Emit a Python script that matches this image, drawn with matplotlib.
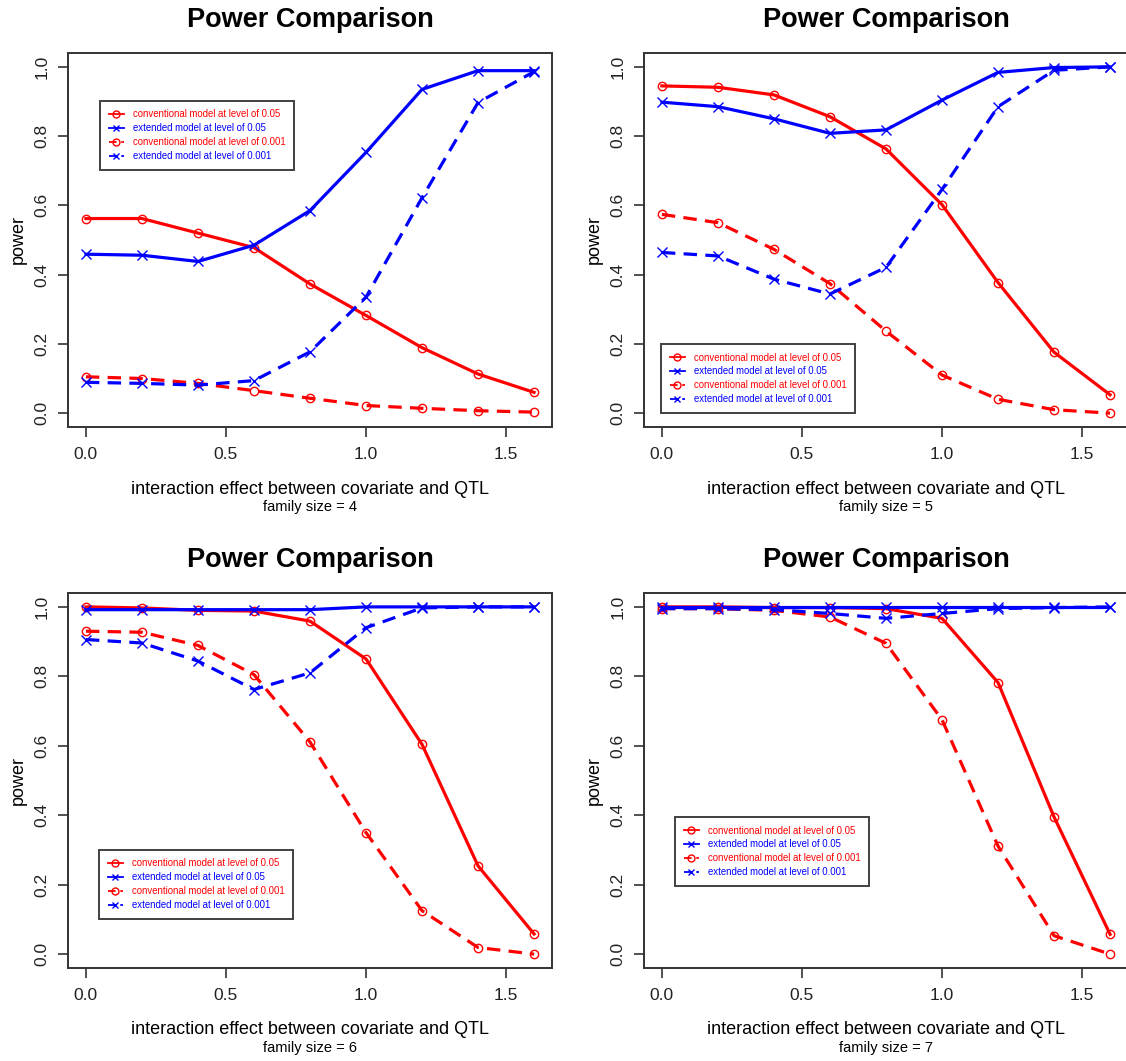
import matplotlib
matplotlib.use("Agg")
import matplotlib.pyplot as plt
from matplotlib import font_manager

# ---------------- data ----------------
effect = [0.0, 0.2, 0.4, 0.6, 0.8, 1.0, 1.2, 1.4, 1.6]
family_sizes = [4, 5, 6, 7]

series_labels = [
    "conventional model at level of 0.05",
    "extended model at level of 0.05",
    "conventional model at level of 0.001",
    "extended model at level of 0.001",
]

# family size = 4
conv05_f4 = [0.562, 0.562, 0.520, 0.478, 0.373, 0.282, 0.189, 0.113, 0.060]
ext05_f4 = [0.459, 0.456, 0.438, 0.485, 0.585, 0.753, 0.935, 0.989, 0.989]
conv001_f4 = [0.105, 0.100, 0.086, 0.065, 0.043, 0.022, 0.014, 0.007, 0.003]
ext001_f4 = [0.089, 0.086, 0.081, 0.094, 0.177, 0.335, 0.622, 0.897, 0.986]

# family size = 5
conv05_f5 = [0.945, 0.941, 0.919, 0.856, 0.763, 0.602, 0.377, 0.176, 0.053]
ext05_f5 = [0.898, 0.885, 0.850, 0.808, 0.818, 0.904, 0.984, 0.998, 1.000]
conv001_f5 = [0.574, 0.550, 0.473, 0.374, 0.237, 0.110, 0.040, 0.010, 0.000]
ext001_f5 = [0.464, 0.454, 0.387, 0.344, 0.421, 0.646, 0.885, 0.990, 1.000]

# family size = 6
conv05_f6 = [1.000, 0.997, 0.990, 0.988, 0.959, 0.850, 0.604, 0.254, 0.058]
ext05_f6 = [0.992, 0.992, 0.992, 0.992, 0.992, 1.000, 1.000, 1.000, 1.000]
conv001_f6 = [0.930, 0.927, 0.889, 0.805, 0.611, 0.350, 0.125, 0.019, 0.000]
ext001_f6 = [0.906, 0.896, 0.844, 0.762, 0.810, 0.940, 0.997, 1.000, 1.000]

# family size = 7
conv05_f7 = [1.000, 1.000, 0.998, 0.998, 0.995, 0.967, 0.782, 0.395, 0.057]
ext05_f7 = [1.000, 1.000, 1.000, 1.000, 1.000, 1.000, 1.000, 1.000, 1.000]
conv001_f7 = [0.995, 0.995, 0.990, 0.971, 0.895, 0.675, 0.311, 0.053, 0.000]
ext001_f7 = [0.995, 0.995, 0.992, 0.981, 0.967, 0.981, 0.995, 0.998, 1.000]

panel_data = [
    [conv05_f4, ext05_f4, conv001_f4, ext001_f4],
    [conv05_f5, ext05_f5, conv001_f5, ext001_f5],
    [conv05_f6, ext05_f6, conv001_f6, ext001_f6],
    [conv05_f7, ext05_f7, conv001_f7, ext001_f7],
]

xticks = [0.0, 0.5, 1.0, 1.5]
yticks = [0.0, 0.2, 0.4, 0.6, 0.8, 1.0]
title = "Power Comparison"
xlabel = "interaction effect between covariate and QTL"
ylabel = "power"

# ---------------- style ----------------
names = {f.name for f in font_manager.fontManager.ttflist}
if "Liberation Sans Narrow" in names:
    FAM = ["Liberation Sans Narrow", "DejaVu Sans"]
    NARROW = True
else:
    FAM = ["Liberation Sans", "DejaVu Sans"]
    NARROW = False
plt.rcParams["font.family"] = FAM

W, H = 1126, 1061
fig = plt.figure(figsize=(W / 100, H / 100), dpi=100)

colors = ["#ff0000", "#0000ff", "#ff0000", "#0000ff"]
markers = ["o", "x", "o", "x"]
dashes = [None, None, (4.2, 2.6), (4.2, 2.6)]

# axes boxes in pixels: (left, top, right, bottom)
boxes = [(68, 53, 552, 427), (644, 53, 1128, 427),
         (68, 593, 552, 968), (644, 593, 1128, 968)]
legend_anchor = [(0.066, 0.872), (0.035, 0.222), (0.064, 0.315), (0.064, 0.403)]

title_fs = 19.5
xlabel_fs = 13
fam_fs = 10.5
tick_fs = 12.5
legend_fs = 6.9


def fx(px):
    return px / W


def fy(py):
    return 1 - py / H


for i, (l, t, r, b) in enumerate(boxes):
    ax = fig.add_axes([fx(l), fy(b), fx(r) - fx(l), fy(t) - fy(b)])
    handles = []
    for k, vals in enumerate(panel_data[i]):
        ln, = ax.plot(effect, vals, color=colors[k], lw=2.3,
                      marker=markers[k], markersize=6 if markers[k] == "o" else 6.5,
                      markerfacecolor="none", markeredgecolor=colors[k],
                      markeredgewidth=1.0, label=series_labels[k])
        if dashes[k] is not None:
            ln.set_dashes(dashes[k])
        handles.append(ln)
    ax.set_xlim(-0.064, 1.664)
    ax.set_ylim(-0.04, 1.04)
    ax.set_xticks(xticks)
    ax.set_xticklabels([f"{v:.1f}" for v in xticks])
    ax.set_yticks(yticks)
    ax.set_yticklabels([f"{v:.1f}" for v in yticks], rotation=90, va="center")
    ax.tick_params(axis="both", direction="out", length=7.2, width=1.1,
                   labelsize=tick_fs, colors="#222222")
    ax.tick_params(axis="x", pad=7)
    ax.tick_params(axis="y", pad=6)
    for sp in ax.spines.values():
        sp.set_linewidth(1.4)
        sp.set_color("#333333")

    leg = ax.legend(handles=handles, loc="upper left",
                    bbox_to_anchor=legend_anchor[i], borderaxespad=0,
                    fontsize=legend_fs, frameon=True, fancybox=False,
                    handlelength=1.6, handletextpad=0.9, labelspacing=0.4,
                    borderpad=0.9)
    leg.get_frame().set_edgecolor("#111111")
    leg.get_frame().set_linewidth(1.4)
    for txt, c in zip(leg.get_texts(), colors):
        txt.set_color(c)
    for h in leg.legend_handles:
        h.set_linewidth(1.3)
        h.set_markersize(5)

    cx = (l + r) / 2
    cy = (t + b) / 2
    fig.text(fx(cx), fy(t - 33), title, ha="center", va="center",
             fontsize=title_fs, fontweight="bold")
    fig.text(fx(cx), fy(b + 62), xlabel, ha="center", va="center",
             fontsize=xlabel_fs)
    fig.text(fx(cx), fy(b + 80), f"family size = {family_sizes[i]}",
             ha="center", va="center", fontsize=fam_fs)
    fig.text(fx(l - 50), fy(cy), ylabel, ha="center", va="center",
             rotation=90, fontsize=13)

fig.savefig("out.png", dpi=100)
